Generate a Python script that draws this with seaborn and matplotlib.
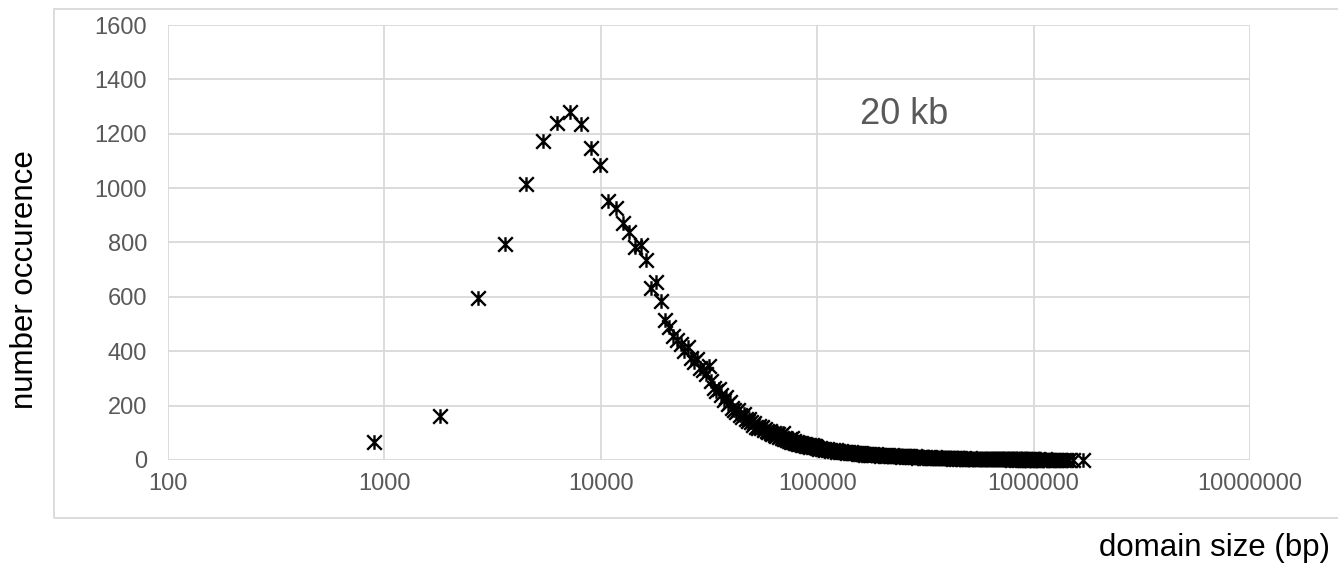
import matplotlib
matplotlib.use('Agg')
import matplotlib.pyplot as plt
from matplotlib.path import Path
from matplotlib.patches import Rectangle
from matplotlib.ticker import FixedLocator, FuncFormatter, NullLocator
import numpy as np
import pandas as pd
import seaborn as sns

# domain sizes come in bins of 900 bp
bin_width = 900

# bins 1..110, every bin
bins_a = list(range(1, 111))
counts_a = [66, 161, 595, 796, 1017, 1174, 1240, 1281, 1237, 1149,
            1086, 954, 928, 873, 840, 785, 790, 734, 631, 653,
            583, 514, 488, 455,
            440, 425, 400, 415, 375, 360, 372, 340, 330, 318,
            345, 290, 265, 255, 262, 238, 222, 230, 205, 212,
            190, 185, 178, 183, 165, 160, 168, 150, 145, 152,
            138, 130, 136, 122, 118, 125,
            118, 122, 110, 114, 106, 102, 108, 98, 95, 100,
            92, 89, 96, 85, 87, 82, 100, 78, 80, 76,
            74, 70, 77, 67, 80, 65, 71, 62, 64, 66,
            60, 62, 58, 64, 56, 58, 54, 60, 53, 55,
            51, 57, 49, 52, 54, 48, 51, 47, 50, 46]

# tail, read at coarser steps
bins_b = list(range(111, 200, 2))
counts_b = [44, 41, 45, 39, 42, 37, 40, 36, 38, 34, 37, 33, 35, 31, 34,
            30, 32, 29, 31, 28, 30, 27, 29, 26, 28, 25, 27, 24, 26, 25,
            23, 26, 22, 24, 21, 23, 22, 20, 23, 21, 19, 22, 20, 18, 21]

bins_c = list(range(201, 301, 3))
counts_c = [20, 18, 21, 17, 19, 18, 16, 19, 17, 15,
            18, 16, 17, 15, 14, 17, 15, 16, 14, 13,
            16, 14, 15, 13, 12, 15, 14, 13, 12, 14,
            13, 11, 13, 12]

bins_d = list(range(305, 501, 5))
counts_d = [12, 10, 13, 11, 9, 12, 10, 11, 9, 10,
            8, 11, 9, 10, 8, 9, 7, 10, 8, 9,
            7, 8, 9, 7, 8, 6, 8, 7, 6, 8,
            7, 6, 7, 5, 7, 6, 5, 7, 6, 5]

bins_e = list(range(508, 1109, 8))
counts_e = [6, 5, 4, 6, 5, 4, 5, 6, 4, 5,
            4, 5, 3, 5, 4, 4, 3, 5, 4, 3,
            4, 3, 4, 5, 3, 3, 4, 3, 2, 4,
            3, 3, 2, 4, 3, 2, 3, 3, 2, 3,
            2, 3, 2, 3, 2, 2, 3, 1, 2, 3,
            2, 2, 1, 2, 3, 2, 1, 2, 2, 1,
            2, 2, 1, 3, 1, 2, 1, 2, 2, 1,
            2, 1, 1, 2, 1, 2]

bins_f = [1120, 1135, 1150, 1170, 1190, 1210, 1230, 1255, 1280, 1305,
          1330, 1360, 1390, 1420, 1455, 1490, 1530, 1570, 1620, 1690, 1870]
counts_f = [2, 1, 1, 2, 1, 1, 1, 2, 1, 1, 1, 1, 1, 1, 1, 1, 1, 1, 1, 1, 1]

x_ticks = [100, 1000, 10000, 100000, 1000000, 10000000]
y_ticks = [0, 200, 400, 600, 800, 1000, 1200, 1400, 1600]

bins = bins_a + bins_b + bins_c + bins_d + bins_e + bins_f
counts = counts_a + counts_b + counts_c + counts_d + counts_e + counts_f
df = pd.DataFrame({"domain size (bp)": np.array(bins) * bin_width,
                   "number occurence": counts})

sns.set_theme(style="white")
plt.rcParams['font.family'] = ['Liberation Sans', 'DejaVu Sans']

W, H = 1338, 569
fig = plt.figure(figsize=(W / 100, H / 100), dpi=100)
ax = fig.add_axes([168 / W, 1 - 460 / H, (1250 - 168) / W, (460 - 25) / H])

# chart area border, like the excel frame
fig.patches.append(Rectangle((54 / W, 1 - 518 / H), 1.2, (518 - 9) / H,
                             transform=fig.transFigure, fill=False,
                             edgecolor='#d9d9d9', linewidth=1.3))

# excel "star" marker: vertical bar plus an X
star = Path([(0, -1), (0, 1), (-1, -1), (1, 1), (-1, 1), (1, -1)],
            [Path.MOVETO, Path.LINETO, Path.MOVETO, Path.LINETO,
             Path.MOVETO, Path.LINETO])

sns.scatterplot(data=df, x="domain size (bp)", y="number occurence",
                marker=star, s=110, color='black', edgecolor='black',
                linewidth=1.7, ax=ax, clip_on=False, zorder=3, legend=False)

ax.set_xscale('log')
ax.set_xlim(100, 10000000)
ax.set_ylim(0, 1600)
ax.xaxis.set_major_locator(FixedLocator(x_ticks))
ax.xaxis.set_minor_locator(NullLocator())
ax.xaxis.set_major_formatter(FuncFormatter(lambda v, p: f"{int(round(v))}"))
ax.set_yticks(y_ticks)
ax.grid(True, color='#d9d9d9', linewidth=1.3)
ax.set_axisbelow(True)
for s in ax.spines.values():
    s.set_visible(False)
ax.tick_params(axis='both', length=0, labelsize=17, labelcolor='#595959')
ax.tick_params(axis='y', pad=15)
ax.tick_params(axis='x', pad=9)
ax.set_xlabel('')
ax.set_ylabel('')

ax.text(253000, 1270, "20 kb", ha='center', va='center', fontsize=26,
        color='#595959')

fig.text(25 / W, 1 - 280 / H, "number occurence", rotation=90,
         ha='center', va='center', fontsize=22.5, color='black')
fig.text(1330 / W, 1 - 548 / H, "domain size (bp)", ha='right',
         va='center', fontsize=22.5, color='black')

fig.savefig('out.png', dpi=100)
